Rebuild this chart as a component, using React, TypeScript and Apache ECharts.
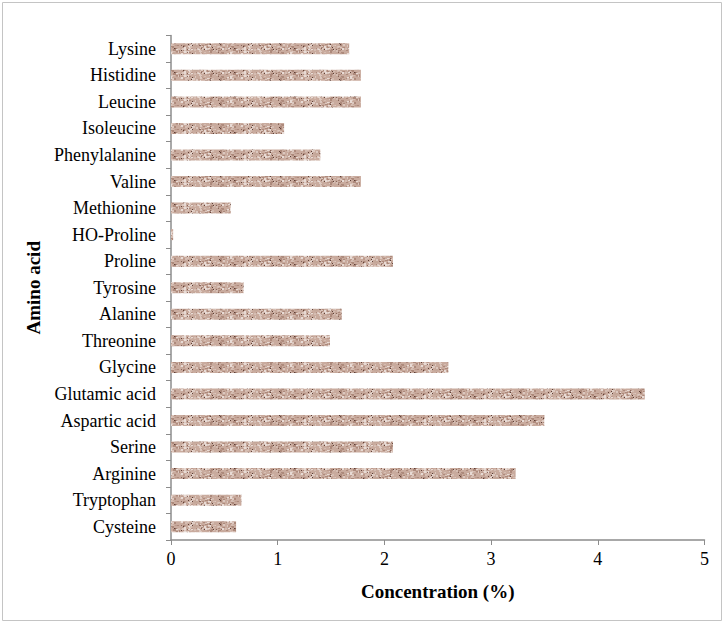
import React, { useEffect, useRef } from "react";
import * as echarts from "echarts";

const categories = [
  "Lysine", "Histidine", "Leucine", "Isoleucine", "Phenylalanine", "Valine",
  "Methionine", "HO-Proline", "Proline", "Tyrosine", "Alanine", "Threonine",
  "Glycine", "Glutamic acid", "Aspartic acid", "Serine", "Arginine",
  "Tryptophan", "Cysteine",
];
const concentration = [
  1.67, 1.78, 1.78, 1.06, 1.4, 1.78, 0.56, 0.02, 2.08, 0.68, 1.6, 1.49,
  2.6, 4.44, 3.5, 2.08, 3.23, 0.66, 0.61,
];
const xTicks = [0, 1, 2, 3, 4, 5];

function makeTexture(): string {
  const w = 60, h = 12;
  const c = document.createElement("canvas");
  c.width = w; c.height = h;
  const ctx = c.getContext("2d")!;
  ctx.fillStyle = "#c9ab9e";
  ctx.fillRect(0, 0, w, h);
  let s = 98765;
  const rnd = () => { s = (s * 1103515245 + 12345) & 0x7fffffff; return s / 0x7fffffff; };
  const cols = ["#dcc8bf", "#e8dbd5", "#bc9b8e", "#d5bdb2", "#ad8a7c", "#c4a799"];
  for (let i = 0; i < 190; i++) {
    const x = Math.floor(rnd() * w), y = Math.floor(rnd() * h);
    ctx.fillStyle = cols[Math.floor(rnd() * cols.length)];
    ctx.fillRect(x, y, 2, 1 + (rnd() < 0.5 ? 1 : 0));
  }
  for (let i = 0; i < 26; i++) {
    const x = Math.floor(rnd() * w), y = Math.floor(rnd() * h);
    ctx.fillStyle = rnd() < 0.5 ? "#5e3f36" : "#8a675c";
    ctx.fillRect(x, y, 1, 1);
  }
  return c.toDataURL();
}

export default function App() {
  const ref = useRef<HTMLDivElement>(null);
  useEffect(() => {
    document.body.style.margin = "0";
    const chart = echarts.init(ref.current!, undefined, { renderer: "svg" });
    const tex = makeTexture();
    const axisColor = "#8c8c8c";
    const font = "'Liberation Serif', 'Times New Roman', serif";
    chart.setOption({
      animation: false,
      backgroundColor: "#ffffff",
      graphic: [
        {
          type: "rect",
          shape: { x: 2.5, y: 2.5, width: 719, height: 618 },
          style: { fill: "none", stroke: "#c4c4c4", lineWidth: 1 },
          silent: true,
        },
      ],
      grid: { left: 171, right: 19.5, top: 35.5, bottom: 83 },
      xAxis: {
        type: "value",
        min: xTicks[0],
        max: xTicks[xTicks.length - 1],
        interval: 1,
        name: "Concentration (%)",
        nameLocation: "middle",
        nameGap: 42,
        nameTextStyle: { fontFamily: font, fontSize: 19, fontWeight: "bold", color: "#000" },
        axisLine: { show: true, lineStyle: { color: axisColor, width: 1.5 } },
        axisTick: { show: true, length: 5, lineStyle: { color: axisColor } },
        axisLabel: { fontFamily: font, fontSize: 18, color: "#000", margin: 10 },
        splitLine: { show: false },
      },
      yAxis: {
        type: "category",
        data: categories,
        inverse: true,
        name: "Amino acid",
        nameLocation: "middle",
        nameGap: 128,
        nameTextStyle: { fontFamily: font, fontSize: 19, fontWeight: "bold", color: "#000" },
        axisLine: { show: true, lineStyle: { color: axisColor, width: 1.5 } },
        axisTick: { show: true, length: 5, alignWithLabel: false, lineStyle: { color: axisColor } },
        axisLabel: { fontFamily: font, fontSize: 18, color: "#000", margin: 15 },
      },
      series: [
        {
          type: "bar",
          data: concentration,
          barWidth: 11,
          itemStyle: { color: { image: tex, repeat: "repeat" } },
        },
      ],
    });
    return () => chart.dispose();
  }, []);
  return (
    <div
      ref={ref}
      style={{ position: "absolute", left: 0, top: 0, width: 724, height: 623 }}
    />
  );
}
